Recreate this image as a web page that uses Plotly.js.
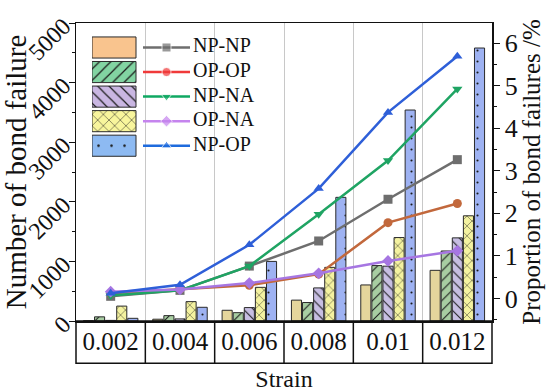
<!DOCTYPE html>
<html><head><meta charset="utf-8">
<script src="https://cdn.plot.ly/plotly-3.0.1.min.js"></script>
<style>html,body{margin:0;padding:0;background:#fff}#chart{width:550px;height:392px}</style>
</head><body><div id="chart"></div><script>
// ---- data ----
const strains = ['0.002','0.004','0.006','0.008','0.01','0.012'];
const seriesNames = ['NP-NP','OP-OP','NP-NA','OP-NA','NP-OP'];
const countNPNP = [5, 30, 180, 350, 605, 850];
const countOPOP = [70, 90, 140, 310, 930, 1175];
const countNPNA = [10, 35, 225, 555, 920, 1395];
const countOPNA = [250, 325, 565, 900, 1400, 1765];
const countNPOP = [45, 230, 1000, 2075, 3540, 4580];
const propNPNP = [0.05, 0.19, 0.76, 1.35, 2.33, 3.26];
const propOPOP = [0.12, 0.22, 0.31, 0.57, 1.78, 2.23];
const propNPNA = [0.07, 0.19, 0.76, 1.98, 3.24, 4.92];
const propOPNA = [0.16, 0.21, 0.36, 0.59, 0.88, 1.12];
const propNPOP = [0.12, 0.32, 1.26, 2.58, 4.37, 5.69];
const leftTicks = [0, 1000, 2000, 3000, 4000, 5000];
const rightTicks = [0, 1, 2, 3, 4, 5, 6];

// ---- styles ----
const FONT = '"Liberation Serif", "Times New Roman", serif';
const counts = [countNPNP, countOPOP, countNPNA, countOPNA, countNPOP];
const props = [propNPNP, propOPOP, propNPNA, propOPNA, propNPOP];
const barColors = ['#E4D59C', '#A8CDA2', '#C7BEE2', '#F4F2A0', '#9EB2F2'];
const legendBarColors = ['#F9C48E', '#82D4A2', '#C9B6E2', '#F8F59C', '#8DBAF2'];
const patterns = ['', '/', '\\', 'x', '.'];
const patSize = [8, 7, 7, 7, 11];
const patSolid = [0.2, 0.15, 0.15, 0.12, 0.03];
const legPatSize = [8, 8, 8, 8, 13];
const lineColors = ['#6E6E6E', '#C2683C', '#1FA463', '#A676E2', '#2E5FD8'];
const legendLineColors = ['#6E6E6E', '#F03A3A', '#0FA862', '#C584EE', '#1E6BDD'];
const symbols = ['square', 'circle', 'triangle-down', 'diamond', 'triangle-up'];

const traces = [];
// bars
counts.forEach((vals, i) => {
  traces.push({
    type: 'bar', x: strains, y: vals, name: seriesNames[i], xaxis: 'x', yaxis: 'y',
    marker: {
      color: barColors[i],
      line: {color: '#2a2a2a', width: 1},
      pattern: {shape: patterns[i], fgcolor: '#1a1a1a', bgcolor: barColors[i], fillmode: 'replace', size: patSize[i], solidity: patSolid[i]}
    },
    showlegend: false, hoverinfo: 'skip'
  });
});
// lines
props.forEach((vals, i) => {
  traces.push({
    type: 'scatter', mode: 'lines+markers', x: strains, y: vals, name: seriesNames[i], xaxis: 'x', yaxis: 'y2',
    line: {color: lineColors[i], width: 2.5},
    marker: {symbol: symbols[i], size: 9, color: lineColors[i]},
    showlegend: false, hoverinfo: 'skip'
  });
});
// custom legend (in its own hidden axes; 1 unit = 1 px horizontally)
seriesNames.forEach((nm, i) => {
  traces.push({
    type: 'bar', orientation: 'h', xaxis: 'x3', yaxis: 'y3', y: [i], x: [44], base: 0, width: 0.86, offset: -0.43,
    marker: {
      color: legendBarColors[i],
      line: {color: '#2a2a2a', width: 1},
      pattern: {shape: patterns[i], fgcolor: '#1a1a1a', bgcolor: legendBarColors[i], fillmode: 'replace', size: legPatSize[i], solidity: patSolid[i]}
    },
    showlegend: false, hoverinfo: 'skip'
  });
  traces.push({
    type: 'scatter', mode: 'lines+markers', xaxis: 'x3', yaxis: 'y3',
    x: [51, 74.5, 98], y: [i, i, i],
    line: {color: legendLineColors[i], width: 2.5},
    marker: {symbol: symbols[i], size: [0, 9, 0], color: legendLineColors[i]},
    showlegend: false, hoverinfo: 'skip'
  });
});
traces.push({
  type: 'scatter', mode: 'text', xaxis: 'x3', yaxis: 'y3',
  x: seriesNames.map(() => 101), y: seriesNames.map((_, i) => i), text: seriesNames, textposition: 'middle right',
  textfont: {family: FONT, size: 20, color: '#111'}, showlegend: false, hoverinfo: 'skip'
});

// table under x axis
const tableBottom = -0.142;
const shapes = [{type: 'rect', xref: 'paper', yref: 'paper', x0: 0, x1: 1, y0: tableBottom, y1: 0, line: {color: '#111', width: 1.5}}];
for (let i = 1; i < strains.length; i++) {
  shapes.push({type: 'line', xref: 'x', yref: 'paper', x0: i - 0.5, x1: i - 0.5, y0: tableBottom, y1: 0, line: {color: '#111', width: 1.5}});
}

const layout = {
  width: 550, height: 392,
  margin: {l: 76, r: 58, t: 23, b: 71},
  paper_bgcolor: '#fff', plot_bgcolor: 'rgba(0,0,0,0)',
  font: {family: FONT, color: '#111'},
  showlegend: false,
  barmode: 'group', bargap: 0.2, bargroupgap: 0.09,
  xaxis: {
    type: 'category', tickson: 'boundaries', showgrid: true, gridcolor: '#C8C8C8', gridwidth: 1,
    showline: true, linecolor: '#111', linewidth: 1.5, mirror: true, ticks: '',
    tickfont: {family: FONT, size: 25}, ticklabelstandoff: -3,
    title: {text: 'Strain', font: {family: FONT, size: 24}, standoff: 22},
    automargin: false
  },
  yaxis: {
    range: [0, 5000], tickvals: leftTicks, ticktext: leftTicks.map(String), ticks: 'outside', ticklen: 6, tickcolor: '#111',
    minor: {tickvals: [500, 1500, 2500, 3500, 4500], ticks: 'outside', ticklen: 3, tickcolor: '#111'},
    tickangle: -45, tickfont: {family: FONT, size: 24},
    showgrid: false, zeroline: false, showline: true, linecolor: '#111', linewidth: 1.5,
    title: {text: 'Number of bond failure', font: {family: FONT, size: 29}, standoff: 4},
    automargin: false
  },
  yaxis2: {
    overlaying: 'y', side: 'right', range: [-0.53, 6.47], tickvals: rightTicks, ticks: 'outside', ticklen: 6, tickcolor: '#111',
    minor: {dtick: 0.5, ticks: 'outside', ticklen: 3, tickcolor: '#111'},
    tickfont: {family: FONT, size: 26},
    showgrid: false, zeroline: false, showline: true, linecolor: '#111', linewidth: 1.5,
    title: {text: 'Proportion of bond failures /%', font: {family: FONT, size: 25}, standoff: 6},
    automargin: false
  },
  xaxis3: {domain: [0.0385, 0.4495], range: [0, 171], visible: false, anchor: 'y3', fixedrange: true},
  yaxis3: {domain: [0.547, 0.959], range: [4.5, -0.5], visible: false, anchor: 'x3', fixedrange: true},
  shapes: shapes
};

Plotly.newPlot('chart', traces, layout, {staticPlot: true, displayModeBar: false});
</script></body></html>
